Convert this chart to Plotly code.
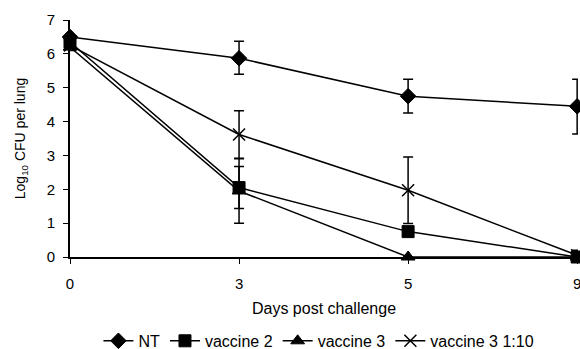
import plotly.graph_objects as go

days = ["0", "3", "5", "9"]
nt = [6.5, 5.87, 4.75, 4.45]
nt_err_plus = [0.05, 0.5, 0.5, 0.8]
nt_err_minus = [0.05, 0.47, 0.5, 0.82]
vac2 = [6.35, 2.05, 0.75, 0.0]
vac2_err = [0.1, 0.62, 0.1, 0.05]
vac3 = [6.2, 1.95, 0.0, 0.0]
vac3_err = [0.1, 0.95, 0.0, 0.0]
vac3_110 = [6.25, 3.62, 1.97, 0.05]
vac3_110_err = [0.1, 0.7, 0.98, 0.15]

xpos = list(range(len(days)))

fig = go.Figure()

def add(name, y, ep, em, symbol, size, lw=1):
    fig.add_trace(go.Scatter(
        x=xpos, y=y, name=name, mode="lines+markers",
        line=dict(color="black", width=1.5),
        marker=dict(symbol=symbol, size=size, color="black",
                    line=dict(color="black", width=lw)),
        error_y=dict(type="data", array=ep, arrayminus=em, symmetric=False,
                     color="black", thickness=1.5, width=5),
        cliponaxis=False,
    ))

add("NT", nt, nt_err_plus, nt_err_minus, "diamond", 12)
add("vaccine 2", vac2, vac2_err, vac2_err, "square", 12)
add("vaccine 3", vac3, vac3_err, vac3_err, "triangle-up", 12)
add("vaccine 3 1:10", vac3_110, vac3_110_err, vac3_110_err, "x-thin-open", 12, 1.5)

font = "Liberation Sans, Arial, sans-serif"
fig.update_layout(
    width=580, height=349,
    margin=dict(l=70, r=2, t=20, b=92, autoexpand=False),
    paper_bgcolor="white", plot_bgcolor="white",
    font=dict(family=font, size=15, color="black"),
    showlegend=True,
    legend=dict(orientation="h", x=0.49, xanchor="center", y=-0.354, yanchor="middle",
                font=dict(size=16), itemwidth=30, tracegroupgap=0),
    xaxis=dict(range=[0, 3.005], tickmode="array", tickvals=xpos, ticktext=days,
               showgrid=False, zeroline=False, showline=True, linecolor="black",
               linewidth=2, ticks="outside", ticklen=5, tickcolor="black",
               ticklabeloverflow="allow", tickfont=dict(size=15), ticklabelstandoff=7,
               title=dict(text="Days post challenge", standoff=12, font=dict(size=16))),
    yaxis=dict(range=[0, 7], dtick=1, showgrid=False, zeroline=False,
               showline=True, linecolor="black", linewidth=2,
               ticks="outside", ticklen=5, tickcolor="black", tickfont=dict(size=15),
               ticklabelstandoff=5,
               title=dict(text="Log<sub>10</sub> CFU per lung", standoff=18,
                          font=dict(size=14))),
)

fig.write_html("out.html")
